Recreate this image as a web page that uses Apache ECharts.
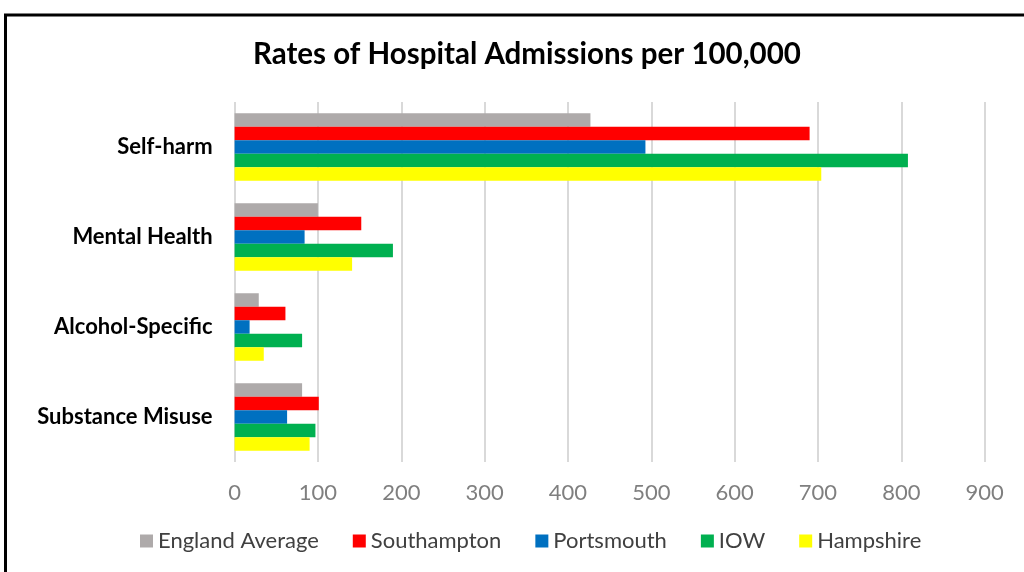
<!DOCTYPE html>
<html>
<head>
<meta charset="utf-8">
<script src="https://cdn.jsdelivr.net/npm/echarts@6/dist/echarts.min.js"></script>
<style>
html,body{margin:0;padding:0;background:#fff;}
#chart{width:1024px;height:572px;}
</style>
</head>
<body>
<div id="chart"></div>
<script>
var categories = ['Self-harm', 'Mental Health', 'Alcohol-Specific', 'Substance Misuse'];
var seriesNames = ['England Average', 'Southampton', 'Portsmouth', 'IOW', 'Hampshire'];
var englandAverage = [427, 100, 29, 81];
var southampton = [690, 152, 61, 101];
var portsmouth = [493, 84, 18, 63];
var iow = [808, 190, 81, 97];
var hampshire = [704, 141, 35, 90];
var colors = ['#aeaaaa', '#ff0000', '#0070c0', '#00b050', '#ffff00'];
var values = [englandAverage, southampton, portsmouth, iow, hampshire];

var chart = echarts.init(document.getElementById('chart'));
var font = 'Lato, "Open Sans", sans-serif';
var series = seriesNames.map(function (n, i) {
  return {
    name: n,
    type: 'bar',
    data: values[i],
    barGap: '0%',
    barCategoryGap: '25%',
    itemStyle: { color: colors[i] },
    emphasis: { disabled: true }
  };
});
chart.setOption({
  animation: false,
  color: colors,
  title: {
    text: 'Rates of Hospital Admissions per 100,000',
    left: 248,
    top: 34,
    textStyle: { fontFamily: font, fontWeight: 'bold', fontSize: 29.5, color: '#000' }
  },
  grid: { left: 234.6, right: 39.4, top: 102, bottom: 110, containLabel: false },
  xAxis: {
    type: 'value',
    min: 0, max: 900, interval: 100,
    axisLine: { show: false },
    axisTick: { show: false },
    splitLine: { lineStyle: { color: '#d9d9d9', width: 2 } },
    axisLabel: { fontFamily: font, fontSize: 22, color: '#7f7f7f', margin: 20 }
  },
  yAxis: {
    type: 'category',
    data: categories,
    inverse: true,
    axisLine: { show: false },
    axisTick: { show: false },
    axisLabel: { fontFamily: font, fontSize: 22, fontWeight: 'bold', color: '#000', margin: 22 }
  },
  legend: {
    data: seriesNames,
    bottom: 15,
    left: 135,
    itemWidth: 13, itemHeight: 13, itemGap: 34,
    icon: 'rect',
    textStyle: { fontFamily: font, fontSize: 22, color: '#404040' }
  },
  graphic: [{
    type: 'rect',
    shape: { x: 5.5, y: 15, width: 1030, height: 600 },
    style: { fill: 'none', stroke: '#000', lineWidth: 3 },
    silent: true
  }],
  series: series
});
</script>
</body>
</html>
